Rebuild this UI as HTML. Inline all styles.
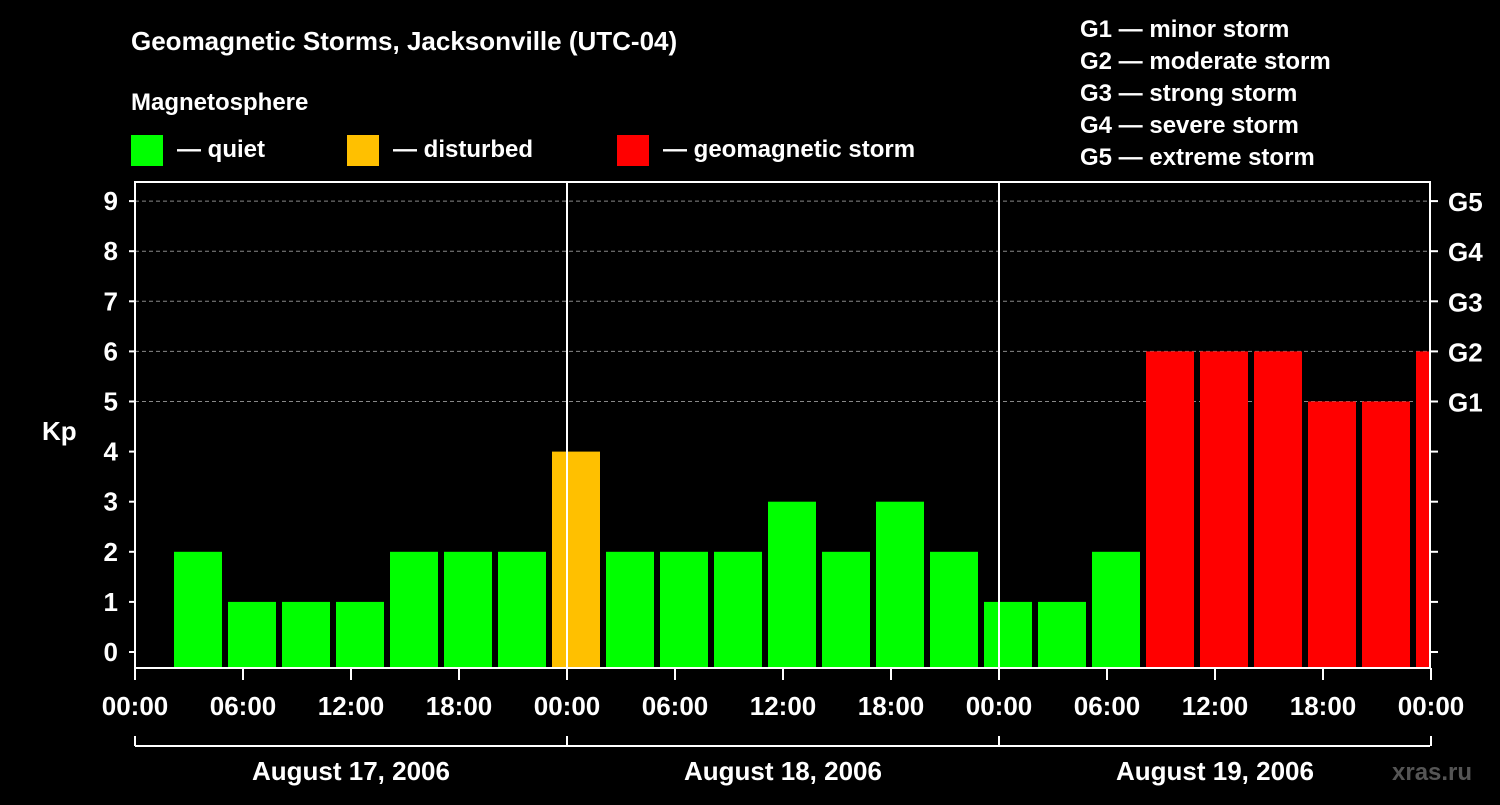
<!DOCTYPE html>
<html><head><meta charset="utf-8"><style>
body{margin:0;background:#000;width:1500px;height:800px;overflow:hidden}
svg text{font-family:"Liberation Sans",Arial,sans-serif;font-weight:bold;fill:#fff}
</style></head><body>
<svg id="chart" width="1500" height="800" xmlns="http://www.w3.org/2000/svg">
<text x="131" y="50" font-size="26">Geomagnetic Storms, Jacksonville (UTC-04)</text>
<text x="131" y="110" font-size="24">Magnetosphere</text>
<g><rect x="131" y="135" width="32" height="31" fill="#00ff00"/><text x="177" y="157" font-size="24">— quiet</text></g>
<g><rect x="347" y="135" width="32" height="31" fill="#ffc000"/><text x="393" y="157" font-size="24">— disturbed</text></g>
<g><rect x="617" y="135" width="32" height="31" fill="#ff0000"/><text x="663" y="157" font-size="24">— geomagnetic storm</text></g>
<g font-size="24">
<text x="1080" y="37">G1 — minor storm</text><text x="1080" y="69">G2 — moderate storm</text><text x="1080" y="101">G3 — strong storm</text><text x="1080" y="133">G4 — severe storm</text><text x="1080" y="165">G5 — extreme storm</text></g>
<text x="42" y="440" font-size="26">Kp</text>
<text x="1392" y="780" font-size="24" fill="#555" style="fill:#555">xras.ru</text>
<g id="grid"></g><g id="bars"></g><g id="axes"></g>
</svg>
<script>
const kpValues=[2,1,1,1,2,2,2,4,2,2,2,3,2,3,2,1,1,2,6,6,6,5,5,6];
const yTicks=[0,1,2,3,4,5,6,7,8,9];
const gLabels=["G1","G2","G3","G4","G5"];
const xTickLabels=["00:00","06:00","12:00","18:00","00:00","06:00","12:00","18:00","00:00","06:00","12:00","18:00","00:00"];
const dayLabels=["August 17, 2006","August 18, 2006","August 19, 2006"];
const firstBarHour=2;
const NS="http://www.w3.org/2000/svg";
const L=135,R=1430,T=182,B=668;
const x=h=>L+h*18;
const y=v=>652-v*50.1;
function mk(tag,attrs,parent,txt){const e=document.createElementNS(NS,tag);for(const k in attrs)e.setAttribute(k,attrs[k]);if(txt!==undefined)e.textContent=txt;parent.appendChild(e);return e;}
const grid=document.getElementById('grid'),bars=document.getElementById('bars'),axes=document.getElementById('axes');
for(const v of yTicks){
 if(v>=5){const g=mk('line',{x1:L,x2:R,y1:y(v),y2:y(v),stroke:'#888','stroke-dasharray':'4,3'},grid);
 
 }
 const t=mk('text',{x:118,y:y(v)+9,'font-size':26,'text-anchor':'end'},axes,String(v));
 
 
 mk('line',{x1:L-6,x2:L,y1:y(v),y2:y(v),stroke:'#fff','stroke-width':2},axes);
 mk('line',{x1:R,x2:R+8,y1:y(v),y2:y(v),stroke:'#fff','stroke-width':2},axes);
}
gLabels.forEach((g,i)=>{const t=mk('text',{x:1448,y:y(i+5)+10,'font-size':26},axes,g);
 
 });
kpValues.forEach((v,i)=>{
 const h0=firstBarHour+i*3;
 const x0=x(h0)+3,x1=Math.min(x(h0+3)-3,R);
 const c=v>=5?'#ff0000':(v>=4?'#ffc000':'#00ff00');
 const r=mk('rect',{x:x0,y:y(v),width:x1-x0,height:B-y(v),fill:c},bars);
 
 
});
mk('rect',{x:L,y:T,width:R-L,height:B-T,fill:'none',stroke:'#fff','stroke-width':2},axes);
[24,48].forEach(h=>mk('line',{x1:x(h),x2:x(h),y1:T,y2:B,stroke:'#fff','stroke-width':2},axes));
xTickLabels.forEach((s,i)=>{
 const xx=x(i*6);
 mk('line',{x1:xx,x2:xx,y1:B,y2:B+12,stroke:'#fff','stroke-width':2},axes);
 const t=mk('text',{x:xx,y:715,'font-size':26,'text-anchor':'middle'},axes,s);
 
 
});
mk('line',{x1:L,x2:R,y1:746,y2:746,stroke:'#fff','stroke-width':2},axes);
[0,24,48,72].forEach(h=>mk('line',{x1:x(h),x2:x(h),y1:736,y2:746,stroke:'#fff','stroke-width':2},axes));
dayLabels.forEach((d,i)=>{const t=mk('text',{x:x(i*24+12),y:780,'font-size':26,'text-anchor':'middle'},axes,d);
 
 });
</script>
</body></html>
